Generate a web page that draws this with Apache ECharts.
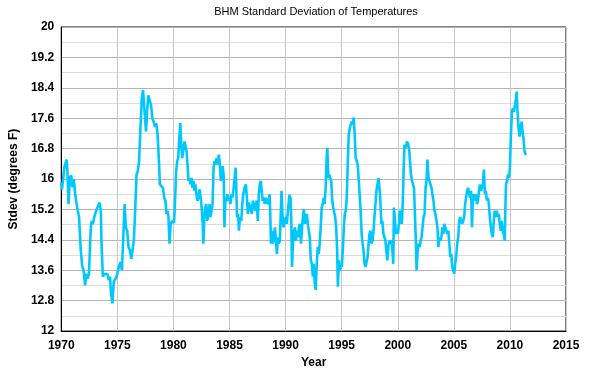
<!DOCTYPE html>
<html>
<head>
<meta charset="utf-8">
<script src="https://cdn.jsdelivr.net/npm/echarts@6/dist/echarts.min.js"></script>
<style>
html,body{margin:0;padding:0;background:#fff;}
#chart{width:589px;height:374px;}
</style>
</head>
<body>
<div id="chart"></div>
<script>
var chartTitle = "BHM Standard Deviation of Temperatures";
var xName = "Year";
var yName = "Stdev (degrees F)";

var years = [
1970.0,1970.06,1970.18,1970.27,1970.47,1970.55,1970.65,1970.76,1970.88,1971.0,1971.12,1971.24,1971.35,1971.47,1971.59,1971.74,1971.88,1972.0,1972.12,1972.24,1972.35,1972.47,1972.62,1972.71,1972.82,1972.94,1973.06,1973.18,1973.29,1973.41,1973.53,1973.59,1973.71,1973.82,1973.94,1974.12,1974.24,1974.35,1974.44,1974.56,1974.68,1974.82,1974.94,1975.06,1975.18,1975.29,1975.41,1975.53,1975.65,1975.76,1975.88,1976.0,1976.12,1976.24,1976.35,1976.47,1976.59,1976.71,1976.82,1976.94,1977.06,1977.18,1977.29,1977.38,1977.47,1977.56,1977.65,1977.76,1977.88,1978.0,1978.12,1978.24,1978.35,1978.47,1978.59,1978.71,1978.79,1978.94,1979.06,1979.18,1979.29,1979.38,1979.47,1979.56,1979.65,1979.76,1979.88,1980.0,1980.06,1980.14,1980.24,
1980.34,1980.43,1980.52,1980.61,1980.70,1980.78,1980.87,1980.99,1981.08,1981.17,1981.26,1981.34,1981.43,1981.52,1981.61,1981.70,1981.79,1981.87,1981.96,1982.05,1982.14,1982.23,1982.34,1982.43,1982.52,1982.61,1982.67,1982.76,1982.84,1982.93,1983.02,1983.11,1983.23,1983.31,1983.40,1983.49,1983.58,1983.67,1983.76,1983.84,1983.93,1984.05,1984.14,1984.23,1984.31,1984.40,1984.49,1984.55,1984.64,1984.73,1984.81,1984.90,1984.99,1985.08,1985.17,1985.26,1985.34,1985.46,1985.55,1985.61,1985.67,1985.76,1985.84,1985.93,1986.05,1986.14,1986.23,1986.34,1986.46,1986.55,1986.64,1986.73,1986.81,1986.90,1986.99,1987.08,1987.17,1987.26,1987.34,1987.43,1987.52,1987.61,1987.70,1987.79,1987.87,1987.96,1988.05,1988.14,1988.23,1988.31,1988.40,1988.49,1988.58,1988.64,1988.70,1988.79,1988.87,1988.96,1989.05,1989.14,1989.23,1989.31,1989.40,1989.49,1989.58,1989.64,1989.73,1989.81,1989.93,1990.02,1990.11,1990.22,1990.34,1990.44,1990.51,1990.57,
1990.66,1990.75,1990.84,1990.93,1991.01,1991.10,1991.19,1991.28,1991.37,1991.45,1991.54,1991.63,1991.72,1991.81,1991.90,1991.98,1992.07,1992.16,1992.25,1992.34,1992.43,1992.51,1992.60,1992.69,1992.78,1992.87,1992.95,1993.04,1993.13,1993.22,1993.31,1993.40,1993.48,1993.57,1993.66,1993.72,1993.81,1993.90,1993.98,1994.07,1994.16,1994.25,1994.34,1994.42,1994.51,1994.60,1994.66,1994.75,1994.84,1994.93,1995.01,1995.10,1995.19,1995.28,1995.37,1995.45,1995.54,1995.63,1995.72,1995.81,1995.90,1995.98,1996.07,1996.16,1996.25,1996.34,1996.43,1996.51,1996.60,1996.69,1996.78,1996.87,1996.95,1997.04,1997.13,1997.22,1997.31,1997.40,1997.48,1997.57,1997.66,1997.75,1997.84,1997.92,1998.01,1998.10,1998.19,1998.28,1998.37,1998.45,1998.54,1998.63,1998.72,1998.81,1998.90,1998.98,1999.07,1999.16,1999.25,1999.34,1999.43,1999.51,1999.60,1999.66,1999.75,1999.84,1999.92,2000.01,2000.10,2000.19,2000.28,2000.36,2000.45,2000.54,2000.60,
2000.71,2000.83,2000.92,2001.01,2001.09,2001.18,2001.27,2001.36,2001.45,2001.54,2001.62,2001.68,2001.77,2001.86,2001.95,2002.04,2002.12,2002.21,2002.30,2002.39,2002.48,2002.56,2002.65,2002.74,2002.83,2002.92,2003.01,2003.09,2003.18,2003.27,2003.36,2003.45,2003.54,2003.62,2003.71,2003.80,2003.89,2003.98,2004.07,2004.15,2004.24,2004.33,2004.42,2004.51,2004.60,2004.68,2004.77,2004.86,2004.95,2005.04,2005.12,2005.21,2005.30,2005.39,2005.48,2005.57,2005.65,2005.74,2005.83,2005.92,2006.01,2006.09,2006.18,2006.27,2006.36,2006.45,2006.54,2006.62,2006.71,2006.80,2006.89,2006.98,2007.06,2007.15,2007.24,2007.33,2007.42,2007.51,2007.59,2007.68,2007.77,2007.86,2007.95,2008.04,2008.12,2008.21,2008.30,2008.39,2008.48,2008.56,2008.65,2008.74,2008.83,2008.92,2009.01,2009.10,2009.18,2009.27,2009.36,2009.45,2009.54,2009.59,2009.65,2009.74,2009.83,2009.92,2010.0,2010.09,2010.18,2010.27,2010.36,2010.45,2010.54,2010.6,2010.68,2010.77,2010.86,2010.95,2011.04,2011.12,2011.21,2011.3,2011.42
];

var stdev = [
15.9,15.72,16.03,16.3,16.51,16.2,15.34,16.03,16.1,15.78,16.0,15.6,15.38,15.43,14.99,14.12,13.69,13.6,13.2,13.51,13.38,13.5,14.64,14.9,14.82,15.0,15.12,15.08,15.3,15.38,15.17,14.3,13.43,13.5,13.47,13.5,13.34,13.43,12.99,12.73,13.3,13.34,13.43,13.6,13.73,13.82,13.6,14.47,15.34,14.73,14.64,14.21,14.12,13.9,14.12,14.38,15.17,16.12,16.2,16.47,17.34,18.12,18.34,18.3,17.6,17.25,17.77,18.2,18.25,17.95,17.6,17.51,17.38,17.47,17.17,16.47,15.86,15.82,15.77,15.51,15.43,15.08,15.17,15.0,14.3,14.82,14.9,14.9,14.85,15.4,16.2,
16.47,16.55,17.08,17.47,16.9,16.55,16.73,16.99,17.03,16.73,16.38,15.95,16.03,15.86,16.03,15.77,15.95,15.69,15.86,15.6,15.43,15.51,15.73,15.51,15.25,14.82,14.3,15.0,15.25,15.34,14.9,15.08,15.34,15.0,14.95,15.34,16.3,16.47,16.38,16.55,16.38,16.64,16.38,15.95,16.12,16.34,16.03,14.73,15.51,15.43,15.6,15.43,15.51,15.34,15.6,15.51,15.69,16.03,16.3,15.69,15.0,15.08,14.64,15.0,14.9,15.34,15.6,15.77,15.86,15.51,15.08,15.38,15.34,15.43,15.08,15.43,15.38,15.17,15.34,15.43,14.9,15.6,15.86,15.95,15.69,15.43,15.51,15.34,15.51,15.43,15.34,15.43,15.6,15.0,14.3,14.64,14.3,14.47,14.73,14.38,14.03,14.47,14.3,14.38,15.17,15.69,15.0,14.73,14.69,15.0,14.82,15.2,15.58,15.5,14.9,13.69,
14.3,14.64,14.73,14.38,14.64,14.47,14.73,14.82,14.3,14.64,15.0,15.21,14.82,15.0,15.08,14.82,14.64,14.47,13.86,13.77,13.43,13.77,13.25,13.08,13.77,14.21,14.03,14.3,14.73,15.25,15.34,15.51,15.34,15.77,16.55,16.82,16.03,16.12,16.03,15.95,15.43,15.25,15.25,15.0,14.73,14.12,13.17,13.86,13.6,13.77,13.69,14.12,14.73,15.08,15.17,15.51,16.38,17.17,17.34,17.43,17.51,17.43,17.62,17.17,16.55,16.47,16.38,16.03,15.6,15.17,14.56,14.3,14.12,13.77,13.69,13.69,13.95,14.3,14.56,14.64,14.3,14.38,14.64,15.0,15.34,15.69,15.86,16.03,15.77,15.43,14.82,14.9,14.56,14.56,14.38,14.12,13.86,14.21,14.38,14.3,14.38,14.21,13.77,15.25,14.9,14.56,14.64,14.56,14.82,15.17,14.9,14.82,15.4,16.4,16.9,
16.82,16.99,17.03,16.82,16.47,16.12,15.95,15.86,15.77,15.0,14.3,13.6,14.12,14.3,14.21,14.38,14.47,14.73,15.0,15.08,15.77,15.95,16.51,16.03,16.03,15.86,15.77,15.6,15.43,15.17,15.08,14.9,14.73,14.21,14.47,14.38,14.47,14.73,14.56,14.82,14.82,14.64,14.56,14.64,14.3,13.95,14.03,13.69,13.6,13.51,13.77,13.95,14.3,14.47,14.9,15.0,14.9,14.82,14.9,15.0,15.34,15.51,15.69,15.77,15.6,15.51,15.69,14.73,15.6,15.6,15.43,15.6,15.34,15.43,15.69,15.86,15.69,15.77,15.86,16.25,15.6,15.69,15.43,15.51,15.34,15.0,14.73,14.56,14.47,14.9,15.17,15.0,15.17,15.0,15.08,14.82,14.64,14.9,14.64,14.56,14.38,15.17,15.86,15.95,16.12,16.03,16.3,17.17,17.77,17.86,17.77,17.95,18.12,18.3,17.77,17.34,17.12,17.34,17.51,17.25,17.08,16.73,16.63
];

var seriesData = years.map(function (y, i) { return [y, stdev[i]]; });

var chart = echarts.init(document.getElementById('chart'), null, {renderer: 'canvas'});
var labelFont = {color: '#000', fontFamily: 'Liberation Sans', fontWeight: 'bold', fontSize: 12};
chart.setOption({
  animation: false,
  backgroundColor: '#fff',
  title: {
    text: chartTitle,
    left: 311,
    top: 1,
    textAlign: 'center',
    textStyle: {color: '#000', fontFamily: 'Liberation Sans', fontWeight: 'normal', fontSize: 11}
  },
  grid: {left: 56, right: 23, top: 27, bottom: 40, show: true, borderColor: '#000', borderWidth: 1, backgroundColor: 'transparent'},
  xAxis: {
    type: 'value', min: 1970, max: 2015, interval: 5,
    name: xName, nameLocation: 'middle', nameGap: 23,
    nameTextStyle: labelFont,
    axisLine: {show: true, lineStyle: {color: '#000', width: 1}},
    axisTick: {show: false},
    axisLabel: Object.assign({margin: 9, formatter: function (v) { return String(v); }}, labelFont),
    splitLine: {show: true, lineStyle: {color: '#c8c8c8', width: 1}}
  },
  yAxis: {
    type: 'value', min: 12, max: 20, interval: 0.8,
    name: yName, nameLocation: 'middle', nameGap: 38,
    nameTextStyle: labelFont,
    axisLine: {show: true, lineStyle: {color: '#000', width: 1}},
    axisTick: {show: false},
    axisLabel: Object.assign({margin: 7, formatter: function (v) { return String(Math.round(v * 10) / 10); }}, labelFont),
    splitLine: {show: true, lineStyle: {color: '#b4b4b4', width: 1}},
    minorTick: {show: false, splitNumber: 2},
    minorSplitLine: {show: true, lineStyle: {color: '#dddddd', width: 1}}
  },
  series: [{
    type: 'line',
    data: seriesData,
    showSymbol: false,
    symbol: 'none',
    lineStyle: {color: '#00c8ff', width: 2.6},
    clip: true
  }]
});
</script>
</body>
</html>
